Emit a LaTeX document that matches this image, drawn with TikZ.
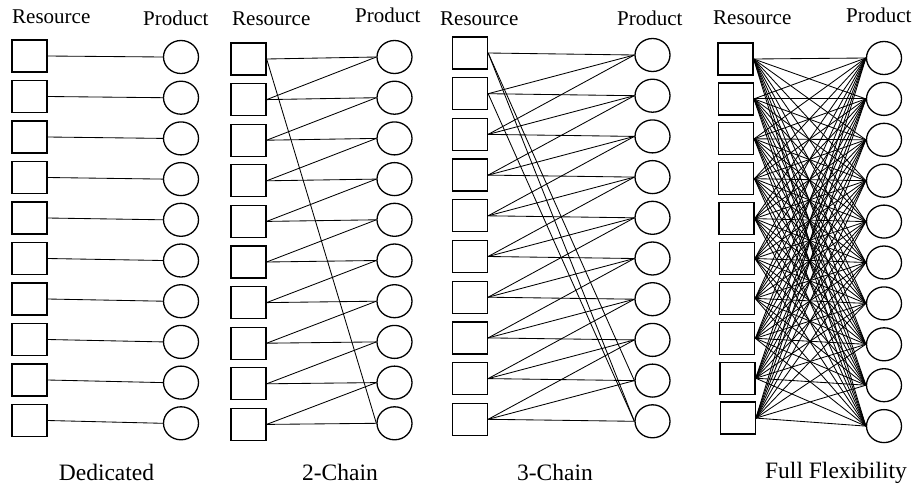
\documentclass[tikz,border=0pt]{standalone}
\usepackage{fontspec}
\setmainfont{Liberation Serif}
\usetikzlibrary{shapes.geometric}
\begin{document}
\begin{tikzpicture}[x=1pt,y=-1pt,
  res/.style={draw, line width=1.3pt, minimum width=35pt, minimum height=32pt, inner sep=0pt},
  prod/.style={draw, ellipse, line width=1.3pt, minimum width=35pt, minimum height=33pt, inner sep=0pt},
  link/.style={line width=0.85pt},
  hdr/.style={anchor=base west, inner sep=0pt, font=\fontsize{21}{21}\selectfont},
  designcaption/.style={anchor=base, inner sep=0pt, font=\fontsize{23.5}{23.5}\selectfont}]
\useasboundingbox (0,0) rectangle (913,485);

% column headings
\node[hdr] (hA1) at (12,23) {Resource};
\node[hdr] (hA2) at (143,25) {Product};
\node[hdr] (hB1) at (232,25) {Resource};
\node[hdr] (hB2) at (355,22) {Product};
\node[hdr] (hC1) at (440,25) {Resource};
\node[hdr] (hC2) at (617,25) {Product};
\node[hdr] (hD1) at (713,24) {Resource};
\node[hdr] (hD2) at (846,22) {Product};

% resources (squares) and products (circles) of the four designs
\foreach \i in {1,...,10} {
  \node[res]  (rA\i) at (29.5, {56+40.5*(\i-1)}) {};
  \node[prod] (pA\i) at (181, {57+40.7*(\i-1)}) {};
  \node[res]  (rB\i) at (248.5, {59+40.6*(\i-1)}) {};
  \node[prod] (pB\i) at (394.5, {57+40.7*(\i-1)}) {};
  \node[res]  (rC\i) at (470, {53+40.7*(\i-1)}) {};
  \node[prod] (pC\i) at (652.5, {55+40.7*(\i-1)}) {};
  \node[res]  (rD\i) at ({735.5+0.25*(\i-1)}, {59+39.9*(\i-1)}) {};
  \node[prod] (pD\i) at (884, {58+40.9*(\i-1)}) {};
}

% dedicated: resource i -> product i
\foreach \i in {1,...,10}
  \draw[link] (rA\i.east) -- (pA\i.west);

% 2-chain: resource i -> products i and i-1 (cyclic)
\foreach \i in {1,...,10} {
  \pgfmathtruncatemacro{\j}{mod(\i+8,10)+1}
  \draw[link] (rB\i.east) -- (pB\i.west);
  \draw[link] (rB\i.east) -- (pB\j.west);
}

% 3-chain: resource i -> products i, i-1 and i-2 (cyclic)
\foreach \i in {1,...,10} {
  \pgfmathtruncatemacro{\j}{mod(\i+8,10)+1}
  \pgfmathtruncatemacro{\k}{mod(\i+7,10)+1}
  \draw[link] (rC\i.east) -- (pC\i.west);
  \draw[link] (rC\i.east) -- (pC\j.west);
  \draw[link] (rC\i.east) -- (pC\k.west);
}

% full flexibility: every resource -> every product
\foreach \i in {1,...,10}
  \foreach \j in {1,...,10}
    \draw[link] (rD\i.east) -- (pD\j.west);

% captions
\node[designcaption] (cA) at (106.5,480) {Dedicated};
\node[designcaption] (cB) at (340,480) {2-Chain};
\node[designcaption] (cC) at (555,480) {3-Chain};
\node[designcaption] (cD) at (836,478) {Full Flexibility};
\end{tikzpicture}
\end{document}
